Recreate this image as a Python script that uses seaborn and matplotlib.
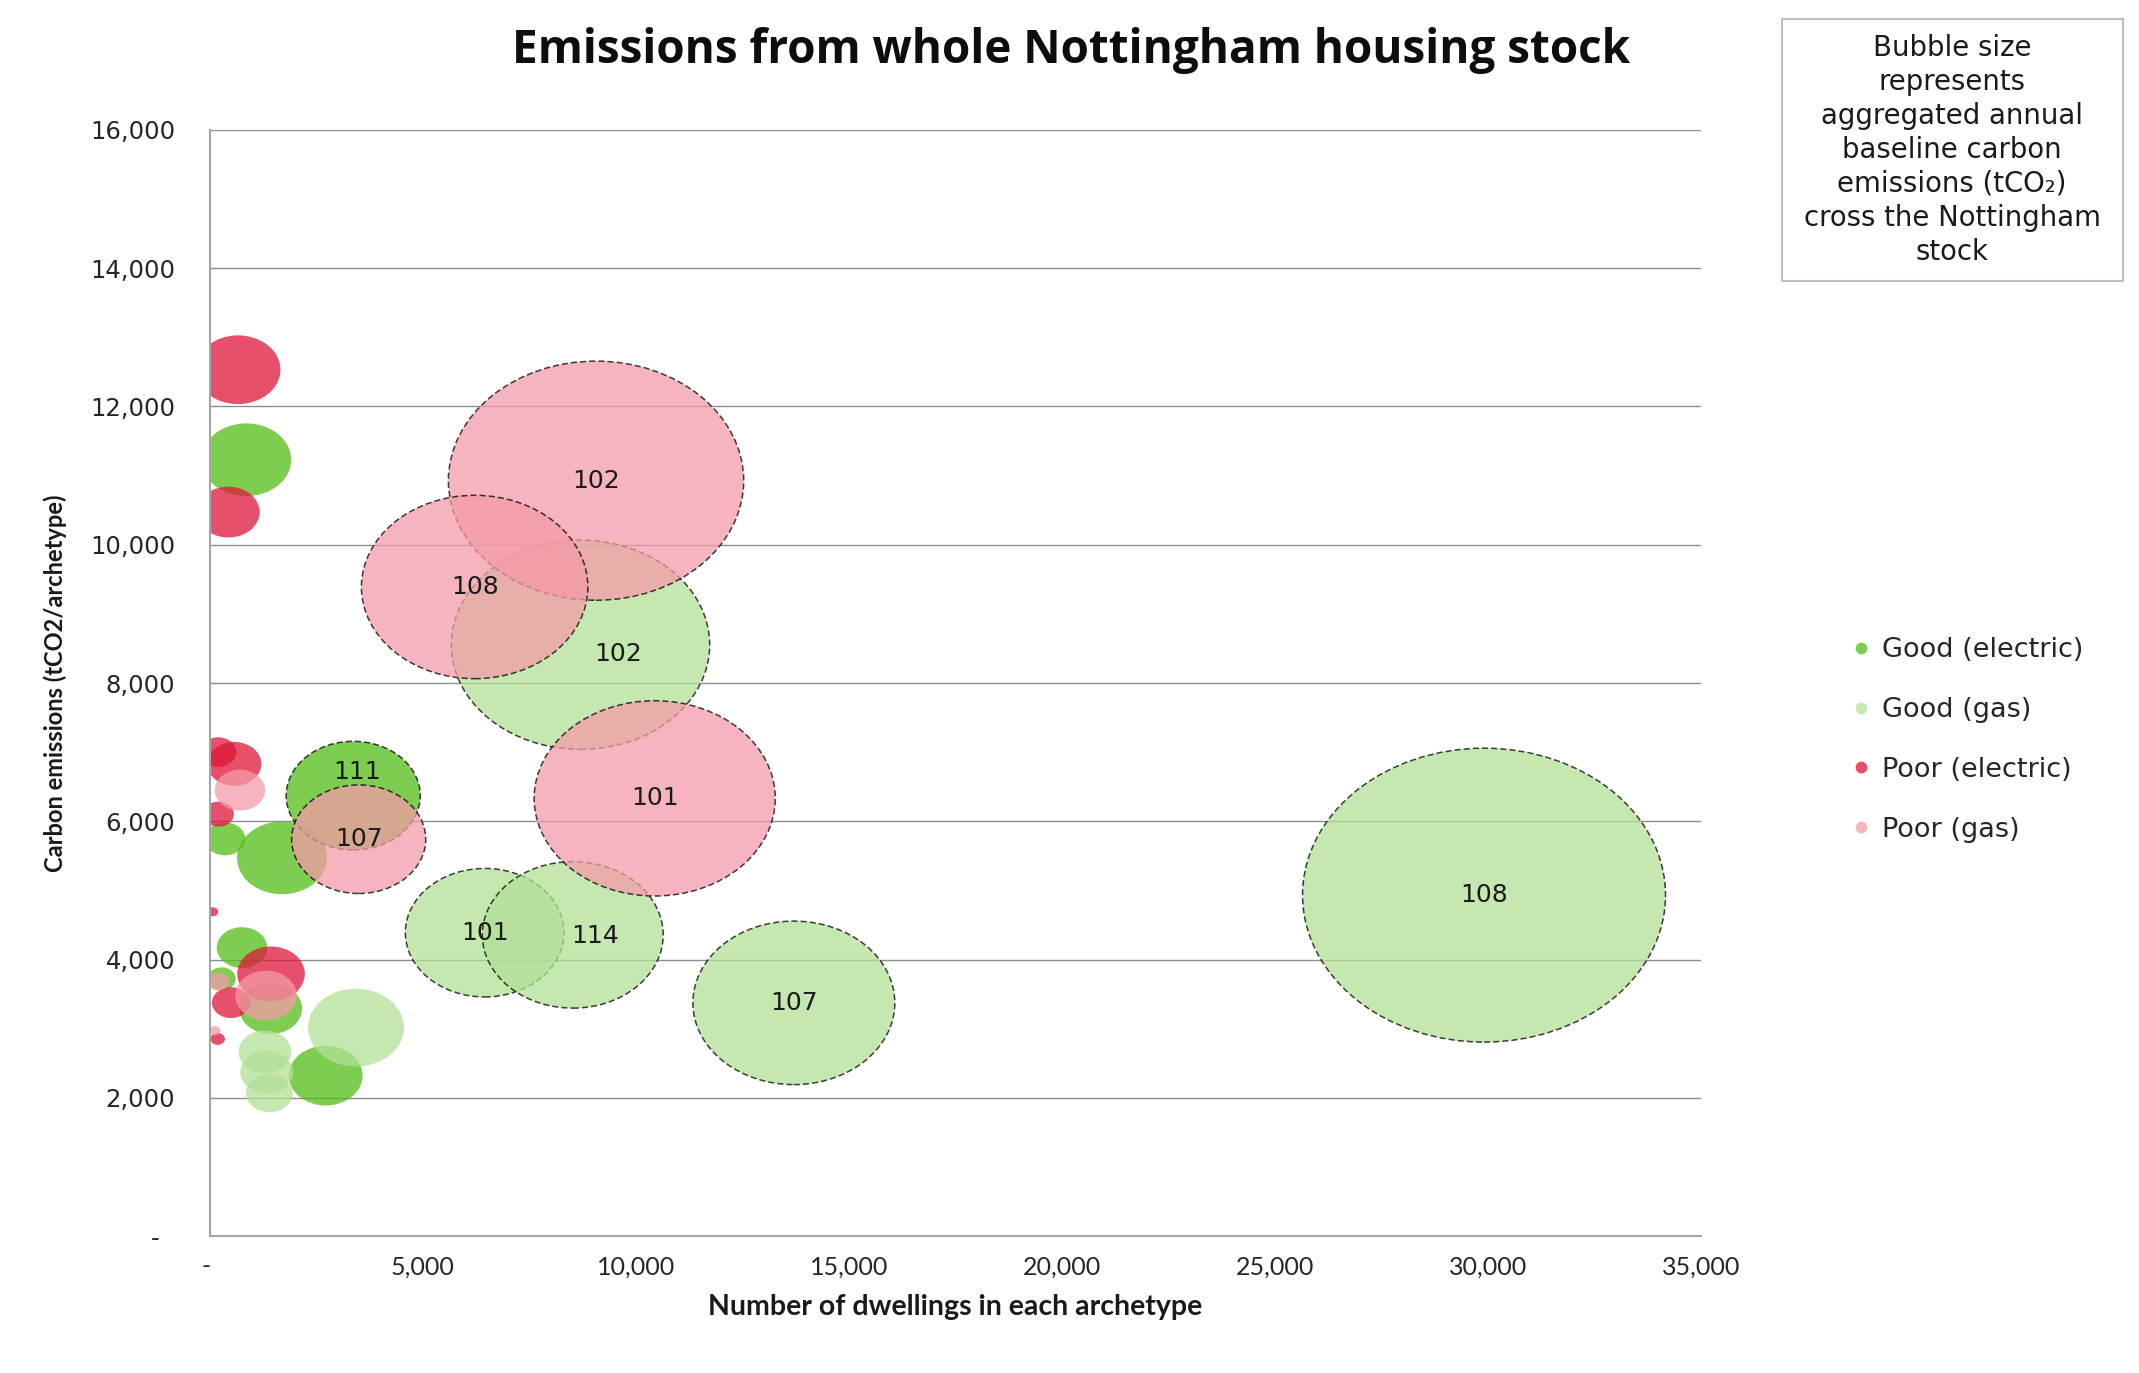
import numpy as np
import pandas as pd
import matplotlib
matplotlib.use("Agg")
import matplotlib.pyplot as plt
import seaborn as sns
from matplotlib.path import Path
from matplotlib.markers import MarkerStyle
from matplotlib.lines import Line2D
from matplotlib.patches import Rectangle
from matplotlib.ticker import FuncFormatter

# ---- data ----
# x = number of dwellings, y = carbon emissions, bubble = aggregated emissions
good_elec_x = [852, 352, 1690, 751, 1425, 274, 2716, 3362]
good_elec_y = [11230, 5745, 5470, 4172, 3290, 3720, 2320, 6371]
good_elec_bubble = [9000, 1840, 9000, 2840, 4400, 890, 6080, 20070]
good_elec_label = ["", "", "", "", "", "", "", "111"]

good_gas_x = [1291, 1331, 1393, 3427, 8697, 6448, 8516, 13705, 29907]
good_gas_y = [2663, 2369, 2065, 3015, 8553, 4388, 4356, 3373, 4931]
good_gas_bubble = [3120, 3120, 2440, 10270, 74500, 28100, 36500, 45500, 147000]
good_gas_label = ["", "", "", "", "102", "101", "114", "107", "108"]

poor_elec_x = [657, 430, 190, 570, 200, 63, 1432, 493, 180]
poor_elec_y = [12532, 10473, 7000, 6830, 6103, 4690, 3792, 3376, 2851]
poor_elec_bubble = [8040, 4400, 1500, 3270, 1060, 140, 5100, 1620, 240]
poor_elec_label = ["", "", "", "", "", "", "", "", ""]

poor_gas_x = [704, 1315, 196, 117, 9062, 6212, 10439, 3490]
poor_gas_y = [6450, 3478, 3680, 2971, 10927, 9389, 6331, 5740]
poor_gas_bubble = [2830, 4220, 545, 140, 97300, 57200, 64900, 20070]
poor_gas_label = ["", "", "", "", "102", "108", "101", "107"]

series_names = ["Good (electric)", "Good (gas)", "Poor (electric)", "Poor (gas)"]
series_colors = ["#52BE16", "#B2E096", "#E01638", "#F49BA8"]

x_ticks = [0, 5000, 10000, 15000, 20000, 25000, 30000, 35000]
y_ticks = [0, 2000, 4000, 6000, 8000, 10000, 12000, 14000, 16000]

title = "Emissions from whole Nottingham housing stock"
note = ("Bubble size\nrepresents\naggregated annual\nbaseline carbon\n"
        "emissions (tCO\u2082)\ncross the Nottingham\nstock")

# label nudges (points) where the labels were moved off the bubble centre
label_offsets = {("Good (electric)", "111"): (3, 17),
                 ("Good (gas)", "102"): (27, -7),
                 ("Good (gas)", "114"): (16, -1)}

frames = []
for name, xs, ys, bs, ls in [
    (series_names[0], good_elec_x, good_elec_y, good_elec_bubble, good_elec_label),
    (series_names[1], good_gas_x, good_gas_y, good_gas_bubble, good_gas_label),
    (series_names[2], poor_elec_x, poor_elec_y, poor_elec_bubble, poor_elec_label),
    (series_names[3], poor_gas_x, poor_gas_y, poor_gas_bubble, poor_gas_label),
]:
    frames.append(pd.DataFrame({"dwellings": xs, "emissions": ys,
                                "bubble": bs, "label": ls, "series": name}))
df = pd.concat(frames, ignore_index=True)
palette = dict(zip(series_names, series_colors))

sns.set_style("white")
plt.rcParams["font.family"] = ["DejaVu Sans"]

W, H, DPI = 2139, 1373, 100
fig = plt.figure(figsize=(W / DPI, H / DPI), dpi=DPI)
ax = fig.add_axes([210 / W, 1 - 1236 / H, (1701 - 210) / W, (1236 - 130) / H])

# Excel draws the bubbles slightly stretched, so use an elliptical marker
aspect = 1.235
circle = Path.unit_circle()
verts = circle.vertices.copy()
verts[:, 1] /= aspect
ellipse = MarkerStyle(Path(verts, circle.codes))

bubble_max = 147000
s_max = (363 * 72 / DPI) ** 2  # widest bubble is ~363 px across

common = dict(x="dwellings", y="emissions", hue="series", size="bubble",
              palette=palette, hue_order=series_names, sizes=(0, s_max),
              size_norm=(0, bubble_max), marker=ellipse, alpha=0.75,
              legend=False, ax=ax)
sns.scatterplot(data=df[df["label"] == ""], edgecolor="none", linewidth=0, **common)
sns.scatterplot(data=df[df["label"] != ""], edgecolor="black", linewidth=1.1,
                linestyle=(0, (4, 2)), **common)

for _, row in df[df["label"] != ""].iterrows():
    dx, dy = label_offsets.get((row["series"], row["label"]), (0, 0))
    ax.annotate(row["label"], (row["dwellings"], row["emissions"]),
                xytext=(dx, dy), textcoords="offset points",
                ha="center", va="center", fontsize=18, color="#1a1a1a",
                family="DejaVu Sans", zorder=5)

ax.set_xlim(0, 35000)
ax.set_ylim(0, 16000)
ax.set_xticks(x_ticks)
ax.set_yticks(y_ticks)
ax.xaxis.set_major_formatter(FuncFormatter(lambda v, p: "- " if v == 0 else f"{v:,.0f}"))
ax.yaxis.set_major_formatter(FuncFormatter(lambda v, p: "-  " if v == 0 else f"{v:,.0f}"))
ax.tick_params(axis="y", length=0, pad=25, labelsize=17.5, labelcolor="#262626")
ax.tick_params(axis="x", length=0, pad=14, labelsize=18, labelcolor="#262626")
for t in ax.get_xticklabels():
    t.set_family("Lato")
ax.yaxis.grid(True, color="#8c8c8c", linewidth=1.0)
ax.xaxis.grid(False)
for side in ["top", "right"]:
    ax.spines[side].set_visible(False)
for side in ["left", "bottom"]:
    ax.spines[side].set_color("#a6a6a6")
    ax.spines[side].set_linewidth(1.5)

ax.set_xlabel("Number of dwellings in each archetype", family="Lato",
              fontweight="bold", fontsize=20.5, labelpad=11, color="#1a1a1a")
ax.set_ylabel("Carbon emissions (tCO2/archetype)", family="Lato",
              fontweight="bold", fontsize=17, labelpad=17, color="#1a1a1a")

fig.text(0.5007, 0.963, title, ha="center", va="center", fontsize=33,
         fontweight="bold", family="Open Sans", color="#0d0d0d")

# note box in the top-right corner
fig.patches.append(Rectangle((1782 / W, 1 - 281 / H), (2123 - 1782) / W, (281 - 19) / H,
                             transform=fig.transFigure, fill=False,
                             edgecolor="#bfbfbf", linewidth=1.5))
fig.text(1952 / W, 1 - 150 / H, note, ha="center", va="center", fontsize=19.8,
         linespacing=1.27, family=["DejaVu Sans"], color="#1a1a1a")

handles = [Line2D([], [], marker="o", linestyle="none", markersize=8.5,
                  markerfacecolor=c, markeredgewidth=0, alpha=0.75)
           for c in series_colors]
fig.legend(handles, series_names, loc="center left", bbox_to_anchor=(1852 / W, 1 - 740 / H),
           frameon=False, fontsize=19.5, handlelength=0.7, handletextpad=0.4,
           labelspacing=1.25, borderpad=0, borderaxespad=0)

fig.savefig("out.png", dpi=DPI)
